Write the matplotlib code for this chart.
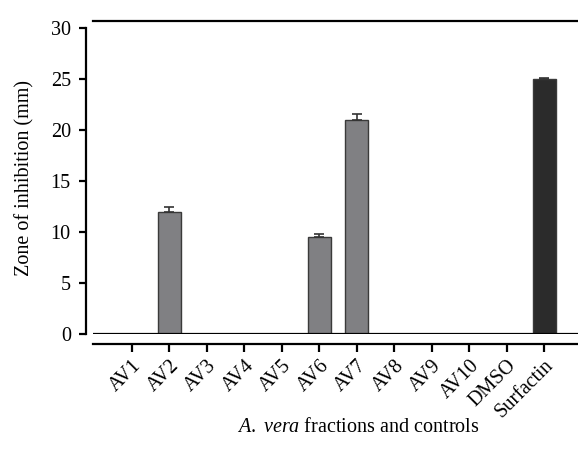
import matplotlib
matplotlib.use("Agg")
import matplotlib.pyplot as plt
import numpy as np

# zone of inhibition
labels = ['AV1', 'AV2', 'AV3', 'AV4', 'AV5', 'AV6', 'AV7', 'AV8', 'AV9', 'AV10', 'DMSO', 'Surfactin']
zone = [0, 12, 0, 0, 0, 9.5, 21, 0, 0, 0, 0, 25]
err = [0, 0.45, 0, 0, 0, 0.35, 0.6, 0, 0, 0, 0, 0.1]
colors = ['#808083'] * 11 + ['#2b2b2b']

plt.rcParams['font.family'] = ['Liberation Serif', 'DejaVu Serif']
plt.rcParams['mathtext.fontset'] = 'custom'
plt.rcParams['mathtext.rm'] = 'Liberation Serif'
plt.rcParams['mathtext.it'] = 'Liberation Serif:italic'

W, H = 578, 451
fig = plt.figure(figsize=(W / 100, H / 100), dpi=100)
ax = fig.add_axes([93 / W, (H - 334) / H, 1 - 93 / W, (334 - 21) / H])

x = np.arange(len(labels))
ax.bar(x, zone, width=0.62, color=colors, edgecolor='#3a3a3a', linewidth=1.0, zorder=2)

# error bars only where there is a bar
idx = [i for i in range(len(zone)) if zone[i] > 0]
ax.errorbar(x[idx], [zone[i] for i in idx], yerr=[[0] * len(idx), [err[i] for i in idx]],
            fmt='none', ecolor='#333333', elinewidth=1.2, capsize=3.8, capthick=1.2, zorder=3)

ax.set_ylim(0, 30 * 313 / 306)
ax.set_xlim(-1.04, 11.9)
ax.axhline(0, color='black', lw=1.6, zorder=4)

ax.spines['right'].set_visible(False)
ax.spines['top'].set_linewidth(1.6)
ax.spines['left'].set_position(('outward', 5))
ax.spines['left'].set_bounds(0, 30)
ax.spines['left'].set_linewidth(1.6)
ax.spines['bottom'].set_position(('outward', 7))
ax.spines['bottom'].set_linewidth(1.6)

ax.set_yticks([0, 5, 10, 15, 20, 25, 30])
ax.set_xticks(x)
ax.set_xticklabels(labels, rotation=45, ha='right', rotation_mode='anchor')
ax.tick_params(axis='y', length=5, width=1.6, labelsize=14.5, pad=6)
ax.tick_params(axis='x', length=6, width=1.6, labelsize=14.5, pad=3)

ax.set_ylabel('Zone of inhibition (mm)', fontsize=14.5, labelpad=12)
fig.text(358 / W, (H - 428) / H, '$\\mathit{A.\\ vera}$ fractions and controls',
         fontsize=14.5, ha='center', va='center')

fig.savefig('out.png', dpi=100)
